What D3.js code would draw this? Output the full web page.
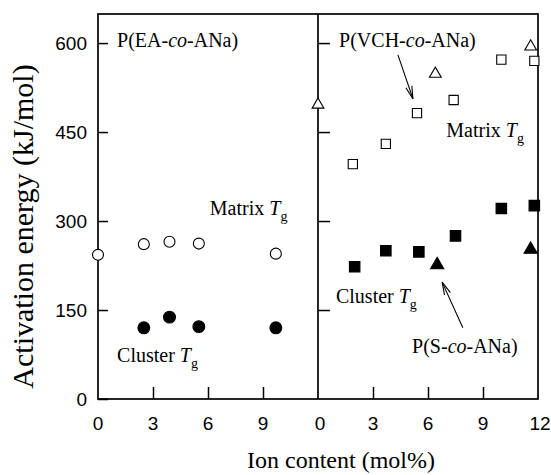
<!DOCTYPE html>
<html>
<head>
<meta charset="utf-8">
<script src="https://cdn.jsdelivr.net/npm/d3@7"></script>
<style>
  body { margin: 0; background: #fff; }
  text { fill: #000; }
  .serif { font-family: "Liberation Serif", "Times New Roman", serif; }
  .tick-label { font-family: "Liberation Sans", Arial, sans-serif; font-size: 19px; }
</style>
</head>
<body>
<div id="chart"></div>
<script>
// ion content (mol%) and activation energy (kJ/mol)
const eaMatrixX = [0, 2.5, 3.9, 5.5, 9.7];
const eaMatrixY = [243, 261, 265, 262, 245];
const eaClusterX = [2.5, 3.9, 5.5, 9.7];
const eaClusterY = [120, 138, 122, 120];

const vchMatrixX = [1.9, 3.7, 5.4, 7.4, 10.0, 11.8];
const vchMatrixY = [396, 430, 482, 504, 572, 570];
const vchClusterX = [2.0, 3.7, 5.5, 7.5, 10.0, 11.8];
const vchClusterY = [223, 250, 248, 275, 321, 326];

const sMatrixX = [0, 6.4, 11.6];
const sMatrixY = [496, 548, 594];
const sClusterX = [6.5, 11.6];
const sClusterY = [226, 252];

const yTicks = [0, 150, 300, 450, 600];
const xTicks = [0, 3, 6, 9];
const xTicksRight = [0, 3, 6, 9, 12];

const W = 551, H = 475;
const plotTop = 14, plotBottom = 399;
const plotLeft = 98, plotMid = 318, plotRight = 538;

const svg = d3.select('#chart').append('svg')
  .attr('width', W)
  .attr('height', H);

const y = d3.scaleLinear().domain([0, 649]).range([plotBottom, plotTop]);
const xL = d3.scaleLinear().domain([0, 12]).range([plotLeft, plotMid]);
const xR = d3.scaleLinear().domain([0, 12]).range([plotMid, plotRight]);

// arrow marker
svg.append('defs').append('marker')
  .attr('id', 'arrow')
  .attr('viewBox', '0 0 14 8')
  .attr('refX', 13)
  .attr('refY', 4)
  .attr('markerWidth', 14)
  .attr('markerHeight', 8)
  .attr('markerUnits', 'userSpaceOnUse')
  .attr('orient', 'auto')
  .append('path')
  .attr('d', 'M0,0.8 L13,4 L0,7.2')
  .attr('fill', 'none')
  .attr('stroke', '#000')
  .attr('stroke-width', 1.1);

// frame
const frame = svg.append('g')
  .attr('fill', 'none')
  .attr('stroke', '#000')
  .attr('stroke-width', 1.7);
frame.append('rect')
  .attr('x', plotLeft).attr('y', plotTop)
  .attr('width', plotRight - plotLeft).attr('height', plotBottom - plotTop);
frame.append('line')
  .attr('x1', plotMid).attr('x2', plotMid)
  .attr('y1', plotTop).attr('y2', plotBottom);

// y axes, ticks inward
const yAxisL = d3.axisRight(y).tickValues(yTicks).tickSize(10).tickFormat('');
svg.append('g').attr('transform', `translate(${plotLeft},0)`).call(yAxisL);
const yAxisR = d3.axisRight(y).tickValues(yTicks.slice(1)).tickSize(12).tickFormat('');
svg.append('g').attr('transform', `translate(${plotMid},0)`).call(yAxisR);

// x axes, ticks inward
const xAxisL = d3.axisTop(xL).tickValues([3, 6, 9]).tickSize(12).tickFormat('');
svg.append('g').attr('transform', `translate(0,${plotBottom})`).call(xAxisL);
const xAxisR = d3.axisTop(xR).tickValues([3, 6, 9]).tickSize(12).tickFormat('');
svg.append('g').attr('transform', `translate(0,${plotBottom})`).call(xAxisR);

svg.selectAll('.domain').remove();
svg.selectAll('.tick line').attr('stroke', '#000').attr('stroke-width', 1.5);

// tick labels
svg.append('g').selectAll('text')
  .data(yTicks).enter().append('text')
  .attr('class', 'tick-label')
  .attr('x', plotLeft - 11)
  .attr('y', d => y(d))
  .attr('dy', '0.36em')
  .attr('text-anchor', 'end')
  .text(d => d);

svg.append('g').selectAll('text')
  .data(xTicks).enter().append('text')
  .attr('class', 'tick-label')
  .attr('x', d => xL(d))
  .attr('y', plotBottom + 31)
  .attr('text-anchor', 'middle')
  .text(d => d);

svg.append('g').selectAll('text')
  .data(xTicksRight).enter().append('text')
  .attr('class', 'tick-label')
  .attr('x', d => xR(d) + (d === 0 || d === 12 ? 2 : 0))
  .attr('y', plotBottom + 31)
  .attr('text-anchor', 'middle')
  .text(d => d);

// axis titles
svg.append('text')
  .attr('class', 'serif')
  .attr('transform', `translate(33,${(55 + 398) / 2}) rotate(-90)`)
  .attr('text-anchor', 'middle')
  .style('font-size', '30px')
  .text('Activation energy (kJ/mol)');

svg.append('text')
  .attr('class', 'serif')
  .attr('x', 341)
  .attr('y', 468)
  .attr('text-anchor', 'middle')
  .style('font-size', '24px')
  .text('Ion content (mol%)');

// markers
function drawPoints(xs, ys, xScale, type, size, filled) {
  const sym = d3.symbol().type(type).size(size);
  svg.append('g').selectAll('path')
    .data(xs.map((d, i) => [d, ys[i]]))
    .enter().append('path')
    .attr('transform', d => `translate(${xScale(d[0])},${y(d[1])})`)
    .attr('d', sym)
    .attr('fill', filled ? '#000' : '#fff')
    .attr('stroke', '#000')
    .attr('stroke-width', 1.1);
}

drawPoints(eaMatrixX, eaMatrixY, xL, d3.symbolCircle, 95, false);
drawPoints(eaClusterX, eaClusterY, xL, d3.symbolCircle, 110, true);
drawPoints(vchMatrixX, vchMatrixY, xR, d3.symbolSquare, 85, false);
drawPoints(vchClusterX, vchClusterY, xR, d3.symbolSquare, 110, true);
drawPoints(sMatrixX, sMatrixY, xR, d3.symbolTriangle, 60, false);
drawPoints(sClusterX, sClusterY, xR, d3.symbolTriangle, 75, true);

// annotations
function label(xScale, xv, yv, parts, size) {
  const t = svg.append('text')
    .attr('class', 'serif')
    .attr('x', xScale(xv))
    .attr('y', y(yv))
    .style('font-size', size + 'px');
  parts.forEach(p => {
    const s = t.append('tspan').text(p.t);
    if (p.i) s.style('font-style', 'italic');
    if (p.sub) s.attr('dy', 6).style('font-size', (size * 0.7) + 'px');
  });
}

const copoly = name => [{ t: 'P(' + name + '-' }, { t: 'co', i: true }, { t: '-ANa)' }];
const tg = word => [{ t: word + ' ' }, { t: 'T', i: true }, { t: 'g', sub: true }];

label(xL, 1.04, 593, copoly('EA'), 20);
label(xL, 6.1, 310, tg('Matrix'), 20);
label(xL, 1.04, 62, tg('Cluster'), 20);
label(xR, 1.15, 593, copoly('VCH'), 20);
label(xR, 7.0, 442, tg('Matrix'), 20);
label(xR, 0.98, 162, tg('Cluster'), 20);
label(xR, 5.13, 77, copoly('S'), 20);

// pointer arrows
const arrows = [
  [[4.36, 580], [5.18, 506]],
  [[7.9, 120], [6.77, 197]]
];
svg.append('g').selectAll('line')
  .data(arrows).enter().append('line')
  .attr('x1', d => xR(d[0][0])).attr('y1', d => y(d[0][1]))
  .attr('x2', d => xR(d[1][0])).attr('y2', d => y(d[1][1]))
  .attr('stroke', '#000')
  .attr('stroke-width', 1.1)
  .attr('marker-end', 'url(#arrow)');
</script>
</body>
</html>
